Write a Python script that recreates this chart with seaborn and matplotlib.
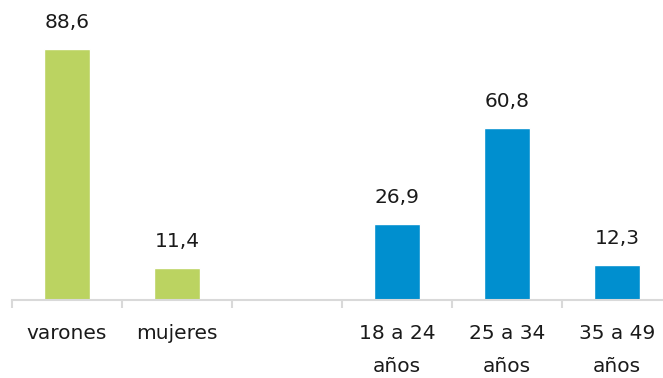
import matplotlib
matplotlib.use("Agg")
import matplotlib.pyplot as plt
import seaborn as sns
import pandas as pd

categories = ["varones", "mujeres", "18 a 24\naños", "25 a 34\naños", "35 a 49\naños"]
values = [88.6, 11.4, 26.9, 60.8, 12.3]
value_labels = ["88,6", "11,4", "26,9", "60,8", "12,3"]
order = ["varones", "mujeres", " ", "18 a 24\naños", "25 a 34\naños", "35 a 49\naños"]
colors = ["#BBD361", "#BBD361", "#008FCF", "#008FCF", "#008FCF"]

sns.set_theme(style="white")
plt.rcParams["font.family"] = ["DejaVu Sans"]

df = pd.DataFrame({"cat": categories, "val": values})

fig = plt.figure(figsize=(6.63, 3.78), dpi=100)
W, H = 663, 378
left_px, base_px, top_px = 12, 300, 16.7
ax = fig.add_axes([left_px / W, (H - base_px) / H, (W - left_px) / W, (base_px - top_px) / H])

sns.barplot(data=df, x="cat", y="val", order=order, hue="cat",
            palette=dict(zip(categories, colors)), width=0.41,
            legend=False, ax=ax, saturation=1)

ax.set_xlabel("")
ax.set_ylabel("")
ax.set_yticks([])
for s in ["top", "right", "left"]:
    ax.spines[s].set_visible(False)
ax.spines["bottom"].set_color("#D9D9D9")
ax.spines["bottom"].set_linewidth(1.5)

bounds = [i - 0.5 for i in range(len(order) + 1)]
ax.set_xticks(bounds)
ax.set_xticklabels([""] * len(bounds))
ax.tick_params(axis="x", which="major", length=6, width=1.5, color="#D9D9D9", bottom=True)
ax.set_xticks(range(len(order)), minor=True)
ax.set_xticklabels(order, minor=True, fontsize=14.5, color="#1a1a1a", linespacing=1.95)
ax.tick_params(axis="x", which="minor", length=0, pad=17)

ax.set_ylim(0, 100)
ax.set_xlim(-0.5, -0.5 + (W - left_px) / 110)

for cat, v, lab in zip(categories, values, value_labels):
    ax.annotate(lab, (order.index(cat), v), xytext=(0, 12), textcoords="offset points",
                ha="center", va="bottom", fontsize=14.5, color="#1a1a1a")

fig.savefig("out.png", dpi=100)
